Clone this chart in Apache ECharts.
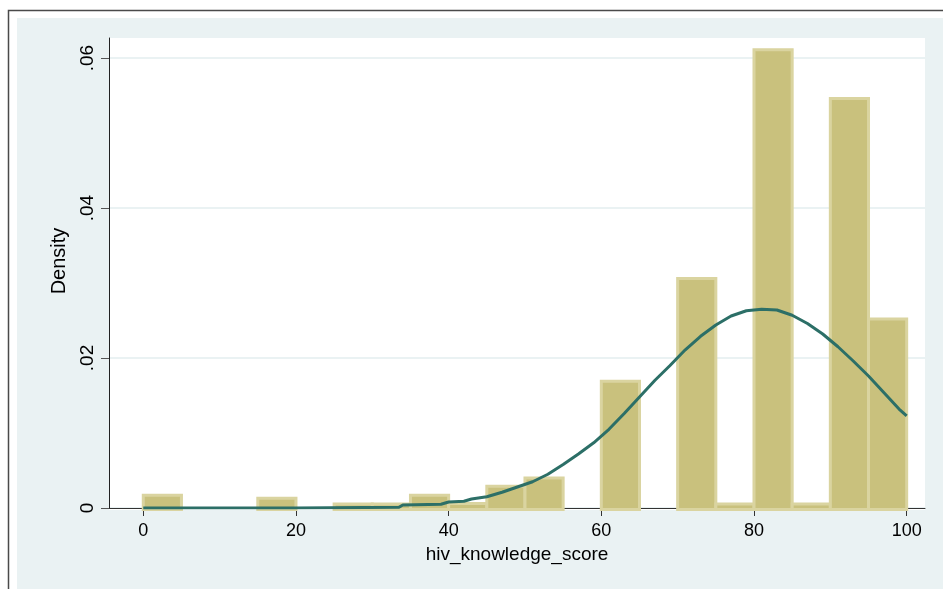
<!DOCTYPE html>
<html>
<head>
<meta charset="utf-8">
<script src="https://cdn.jsdelivr.net/npm/echarts@6/dist/echarts.min.js"></script>
<style>
  html, body { margin: 0; padding: 0; background: #fff; }
  #hist { width: 943px; height: 589px; }
</style>
</head>
<body>
<div id="hist"></div>
<script>
// histogram bins (width 5) and their density
var binWidth = 5;
var binStart = [0, 15, 25, 30, 35, 40, 45, 50, 60, 70, 75, 80, 85, 90, 95];
var binDensity = [0.0017, 0.0013, 0.00055, 0.00055, 0.0017, 0.0006, 0.0029, 0.0040,
                  0.0169, 0.0306, 0.00055, 0.0611, 0.00055, 0.0546, 0.0252];

// normal density overlay
var curveX = [0, 20, 33.5, 34, 39, 40, 42, 43, 45, 47, 49, 51, 53, 55, 57, 59, 61, 63, 65,
              67, 69, 71, 73, 75, 77, 79, 81, 83, 85, 87, 89, 91, 93, 95, 97, 99, 100];
var curveY = [0, 0, 0.0001, 0.0004, 0.0005, 0.0008, 0.0009, 0.0012, 0.0015, 0.0021, 0.0028,
              0.0035, 0.0045, 0.0058, 0.0072, 0.0087, 0.0105, 0.0126, 0.0148, 0.0170, 0.0190,
              0.0211, 0.0229, 0.0244, 0.0256, 0.0263, 0.0265, 0.0264, 0.0257, 0.0246, 0.0232,
              0.0215, 0.0196, 0.0176, 0.0154, 0.0132, 0.0123];

// tick labels
var xTicks = [0, 20, 40, 60, 80, 100];
var yTicks = [0, 0.02, 0.04, 0.06];
var yTickLabels = ['0', '.02', '.04', '.06'];

var barRows = [];
for (var i = 0; i < binStart.length; i++) {
    barRows.push([binStart[i], binStart[i] + binWidth, binDensity[i]]);
}
var curveRows = [];
for (var j = 0; j < curveX.length; j++) {
    curveRows.push([curveX[j], curveY[j]]);
}

var chart = echarts.init(document.getElementById('hist'));
var font = "'Liberation Sans', Arial, sans-serif";

var option = {
    animation: false,
    backgroundColor: '#ffffff',
    graphic: {
        elements: [
            { type: 'rect', z: -100, shape: { x: 8.5, y: 10.5, width: 950, height: 600 },
              style: { fill: '#ffffff', stroke: '#4a4a4a', lineWidth: 1.5 } },
            { type: 'rect', z: -99, shape: { x: 17, y: 18, width: 940, height: 590 },
              style: { fill: '#EAF2F3' } },
            { type: 'rect', z: -98, shape: { x: 109, y: 38, width: 816, height: 472 },
              style: { fill: '#ffffff' } }
        ]
    },
    grid: { left: 109, right: 18, top: 38, bottom: 81 },
    xAxis: {
        type: 'value',
        min: -4.49,
        max: 102.4,
        name: 'hiv_knowledge_score',
        nameLocation: 'middle',
        nameGap: 33,
        nameTextStyle: { fontFamily: font, fontSize: 19, color: '#000' },
        axisLine: { onZero: true, lineStyle: { color: '#333', width: 1 } },
        axisTick: { customValues: xTicks, length: 8, lineStyle: { color: '#333' } },
        axisLabel: { customValues: xTicks, margin: 14, fontFamily: font, fontSize: 18, color: '#000' },
        splitLine: { show: false }
    },
    yAxis: {
        type: 'value',
        min: 0,
        max: 0.06267,
        interval: 0.02,
        name: 'Density',
        nameLocation: 'middle',
        nameGap: 40,
        nameRotate: 90,
        nameTextStyle: { fontFamily: font, fontSize: 20, color: '#000', padding: [0, 0, 0, 24] },
        axisLine: { show: true, onZero: false, lineStyle: { color: '#222', width: 1 } },
        axisTick: { customValues: yTicks, length: 8, lineStyle: { color: '#555' } },
        axisLabel: {
            customValues: yTicks,
            rotate: 90,
            margin: 12,
            fontFamily: font,
            fontSize: 19,
            color: '#000',
            formatter: function (v) {
                var k = yTicks.indexOf(v);
                return k >= 0 ? yTickLabels[k] : '';
            }
        },
        splitLine: { show: true, lineStyle: { color: '#EAF2F3', width: 2 } }
    },
    series: [
        {
            type: 'custom',
            clip: false,
            data: barRows,
            encode: { x: [0, 1], y: 2 },
            renderItem: function (params, api) {
                var p0 = api.coord([api.value(0), 0]);
                var p1 = api.coord([api.value(1), api.value(2)]);
                return {
                    type: 'rect',
                    shape: { x: p0[0], y: p1[1], width: p1[0] - p0[0], height: p0[1] - p1[1] + 1.5 },
                    style: { fill: '#C9C17D', stroke: '#DAD4A0', lineWidth: 3 }
                };
            },
            z: 2
        },
        {
            type: 'line',
            data: curveRows,
            symbol: 'none',
            lineStyle: { color: '#2C6F67', width: 3 },
            z: 3
        }
    ]
};
chart.setOption(option);
</script>
</body>
</html>
